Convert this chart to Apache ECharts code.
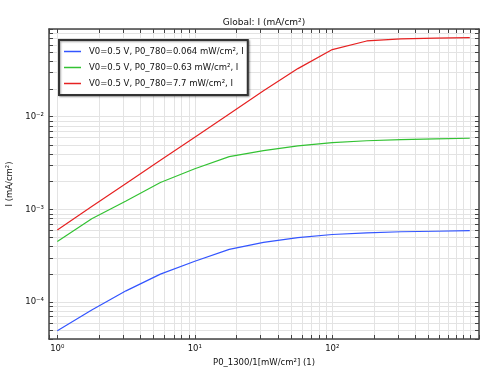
<!DOCTYPE html>
<html><head><meta charset="utf-8">
<script src="https://cdn.jsdelivr.net/npm/echarts@6/dist/echarts.min.js"></script>
<style>html,body{margin:0;padding:0;background:#fff}#c{width:494px;height:373px}</style>
</head><body><div id="c"></div>
<script>
// ---- data ----
const xValues = [1, 1.78, 3.16, 5.62, 10, 17.8, 31.6, 56.2, 100, 178, 316, 562, 1000];
const blueValues = [4.9e-5, 8.2e-5, 1.32e-4, 2.0e-4, 2.75e-4, 3.7e-4, 4.4e-4, 4.95e-4, 5.35e-4, 5.58e-4, 5.73e-4, 5.8e-4, 5.88e-4];
const greenValues = [4.5e-4, 7.9e-4, 1.23e-3, 1.95e-3, 2.74e-3, 3.7e-3, 4.3e-3, 4.83e-3, 5.25e-3, 5.5e-3, 5.65e-3, 5.75e-3, 5.85e-3];
const redValues = [6.0e-4, 1.07e-3, 1.9e-3, 3.38e-3, 6.0e-3, 1.07e-2, 1.9e-2, 3.3e-2, 5.3e-2, 6.56e-2, 6.9e-2, 7.03e-2, 7.11e-2];
const seriesNames = ['V0=0.5 V, P0_780=0.064 mW/cm², I', 'V0=0.5 V, P0_780=0.63 mW/cm², I', 'V0=0.5 V, P0_780=7.7 mW/cm², I'];
const seriesColors = ['#3355ff', '#33c233', '#e62222'];
const xTickValues = [1, 10, 100];
const xTickLabels = ['10⁰', '10¹', '10²'];
const yTickValues = [1e-4, 1e-3, 1e-2];
const yTickLabels = ['10⁻⁴', '10⁻³', '10⁻²'];
const xMinor = [2,3,4,5,6,7,8,9,20,30,40,50,60,70,80,90,200,300,400,500,600,700,800,900];
const yMinor = [5e-5,6e-5,7e-5,8e-5,9e-5,2e-4,3e-4,4e-4,5e-4,6e-4,7e-4,8e-4,9e-4,2e-3,3e-3,4e-3,5e-3,6e-3,7e-3,8e-3,9e-3,2e-2,3e-2,4e-2,5e-2,6e-2,7e-2,8e-2];
const xRange = [0.87, 1167];
const yRange = [3.99e-5, 0.0883];
// ---------------

const FONT = 'DejaVu Sans';
const GRIDC = '#e3e3e3';
const TICKC = '#444';
function near(v, arr){ for (let i=0;i<arr.length;i++){ if (Math.abs(Math.log10(v)-Math.log10(arr[i]))<1e-6) return i; } return -1; }

function xTickItem(params, api){
  const v = api.value(0);
  const p = api.coord([v, yRange[0]*2]);
  const cs = params.coordSys;
  const x = Math.round(p[0]) + 0.5;
  return {type:'group', children:[
    {type:'line', z2:0, shape:{x1:x,y1:cs.y,x2:x,y2:cs.y+cs.height}, style:{stroke:GRIDC,lineWidth:1}},
    {type:'line', z2:5, shape:{x1:x,y1:cs.y+cs.height,x2:x,y2:cs.y+cs.height-4}, style:{stroke:TICKC,lineWidth:1}},
    {type:'line', z2:5, shape:{x1:x,y1:cs.y,x2:x,y2:cs.y+4}, style:{stroke:TICKC,lineWidth:1}}
  ]};
}
function yTickItem(params, api){
  const v = api.value(1);
  const p = api.coord([2, v]);
  const cs = params.coordSys;
  const y = Math.round(p[1]) + 0.5;
  return {type:'group', children:[
    {type:'line', z2:0, shape:{x1:cs.x,y1:y,x2:cs.x+cs.width,y2:y}, style:{stroke:GRIDC,lineWidth:1}},
    {type:'line', z2:5, shape:{x1:cs.x,y1:y,x2:cs.x+4,y2:y}, style:{stroke:TICKC,lineWidth:1}},
    {type:'line', z2:5, shape:{x1:cs.x+cs.width,y1:y,x2:cs.x+cs.width-4,y2:y}, style:{stroke:TICKC,lineWidth:1}}
  ]};
}

const chart = echarts.init(document.getElementById('c'), null, {renderer:'canvas'});
const axisCommon = {
  type:'log', logBase:10,
  axisLine:{show:true, lineStyle:{color:'#444', width:1.5}},
  axisTick:{show:true, inside:true, length:4, lineStyle:{color:TICKC}},
  splitLine:{show:true, lineStyle:{color:GRIDC, width:1}},
  minorTick:{show:false}, minorSplitLine:{show:false}
};
chart.setOption({
  animation:false,
  textStyle:{fontFamily:FONT},
  title:{text:'Global: I (mA/cm²)', left:264, top:18, textAlign:'center', padding:0,
    textStyle:{fontFamily:FONT, fontSize:9, fontWeight:'normal', color:'#111'}},
  grid:{left:49, right:15, top:29, bottom:34, containLabel:false, outerBoundsMode:'none'},
  legend:{
    orient:'vertical', left:59, top:40,
    data:seriesNames.map((n,i)=>({name:n, icon:'rect', itemStyle:{color:seriesColors[i]}})),
    itemWidth:17, itemHeight:1.5, itemGap:7,
    padding:[7,4,7,5],
    borderColor:'#333', borderWidth:2, backgroundColor:'#fff',
    shadowColor:'rgba(0,0,0,0.35)', shadowBlur:2, shadowOffsetX:1, shadowOffsetY:1,
    textStyle:{fontFamily:FONT, fontSize:8.5, color:'#111', padding:[0,0,0,3]}
  },
  xAxis:[
    Object.assign({}, axisCommon, {
      position:'bottom', min:xRange[0], max:xRange[1],
      name:'P0_1300/1[mW/cm²] (1)', nameLocation:'middle', nameGap:11,
      nameTextStyle:{fontFamily:FONT, fontSize:8.5, color:'#111'},
      axisLabel:{show:true, margin:5, fontFamily:FONT, fontSize:8.5, color:'#111',
        showMinLabel:true, showMaxLabel:true,
        formatter:function(v){ const i = near(v, xTickValues); return i>=0 ? xTickLabels[i] : ''; }}
    }),
    Object.assign({}, axisCommon, {
      position:'top', min:xRange[0], max:xRange[1], axisLabel:{show:false}, splitLine:{show:false}
    })
  ],
  yAxis:[
    Object.assign({}, axisCommon, {
      position:'left', min:yRange[0], max:yRange[1],
      name:'I (mA/cm²)', nameLocation:'middle', nameGap:34,
      nameTextStyle:{fontFamily:FONT, fontSize:8.5, color:'#111'},
      axisLabel:{show:true, margin:5, fontFamily:FONT, fontSize:8.5, color:'#111',
        formatter:function(v){ const i = near(v, yTickValues); return i>=0 ? yTickLabels[i] : ''; }}
    }),
    Object.assign({}, axisCommon, {
      position:'right', min:yRange[0], max:yRange[1], axisLabel:{show:false}, splitLine:{show:false}
    })
  ],
  series:[
    {type:'custom', name:'xminor', renderItem:xTickItem, data:xMinor.map(v=>[v, 1e-3]), z:1, silent:true, clip:false},
    {type:'custom', name:'yminor', renderItem:yTickItem, data:yMinor.map(v=>[2, v]), z:1, silent:true, clip:false},
    {type:'line', name:seriesNames[0], data:xValues.map((x,i)=>[x, blueValues[i]]), symbol:'none', z:3,
      lineStyle:{color:seriesColors[0], width:1.2}, itemStyle:{color:seriesColors[0]}},
    {type:'line', name:seriesNames[1], data:xValues.map((x,i)=>[x, greenValues[i]]), symbol:'none', z:3,
      lineStyle:{color:seriesColors[1], width:1.2}, itemStyle:{color:seriesColors[1]}},
    {type:'line', name:seriesNames[2], data:xValues.map((x,i)=>[x, redValues[i]]), symbol:'none', z:3,
      lineStyle:{color:seriesColors[2], width:1.2}, itemStyle:{color:seriesColors[2]}}
  ]
});
</script></body></html>
